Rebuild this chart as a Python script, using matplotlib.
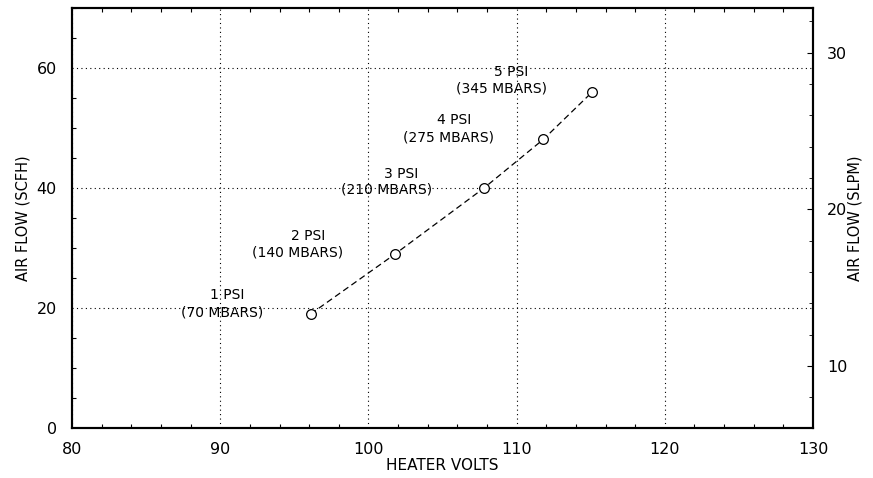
import numpy as np
import matplotlib.pyplot as plt
from matplotlib.ticker import MultipleLocator

plt.rcParams['font.family'] = ['DejaVu Sans']

# data
volts = [96.1, 101.8, 107.8, 111.8, 115.1]
scfh = [19.0, 29.0, 40.0, 48.1, 56.0]
psi = [1, 2, 3, 4, 5]
mbars = [70, 140, 210, 275, 345]

# where the two label lines sit (data coords)
top_xy = [(90.5, 22.2), (95.9, 32.0), (102.2, 42.3), (105.8, 51.3), (109.6, 59.4)]
bot_xy = [(90.1, 19.3), (95.2, 29.2), (101.2, 39.7), (105.4, 48.5), (109.0, 56.6)]

fig = plt.figure(figsize=(8.73, 4.78), dpi=100)
ax = fig.add_axes([0.0825, 0.1046, 0.8488, 0.8786])

ax.plot(volts, scfh, color='black', linestyle=(0, (5, 3)), linewidth=0.9,
        marker='o', markersize=7, markerfacecolor='white',
        markeredgecolor='black', markeredgewidth=0.9, zorder=3)

for p, m, (tx, ty), (bx, by) in zip(psi, mbars, top_xy, bot_xy):
    ax.text(tx, ty, '%d PSI' % p, ha='center', va='center', fontsize=10)
    ax.text(bx, by, '(%d MBARS)' % m, ha='center', va='center', fontsize=10)

ax.set_xlim(80, 130)
ax.set_ylim(0, 70)
ax.set_xticks([80, 90, 100, 110, 120, 130])
ax.set_yticks([0, 20, 40, 60])
ax.xaxis.set_minor_locator(MultipleLocator(2))
ax.yaxis.set_minor_locator(MultipleLocator(5))
ax.tick_params(which='both', direction='in', top=True, labelsize=11.5,
               colors='black', width=0.8)
ax.tick_params(which='major', length=0)
ax.tick_params(axis='x', which='major', pad=10)
ax.tick_params(axis='y', which='major', pad=11)
ax.tick_params(which='minor', length=3)
ax.grid(True, which='major', linestyle=(0, (1, 3)), color='black', linewidth=0.8)
for s in ax.spines.values():
    s.set_linewidth(1.5)

ax.set_xlabel('HEATER VOLTS', fontsize=11, labelpad=1)
ax.set_ylabel('AIR FLOW (SCFH)', fontsize=10.5, labelpad=4)

# right axis in SLPM
ax2 = ax.twinx()
ax2.set_ylim(6.04, 32.85)
ax2.set_yticks([10, 20, 30])
ax2.yaxis.set_minor_locator(MultipleLocator(2))
ax2.tick_params(which='both', direction='in', labelsize=11.5)
ax2.tick_params(which='major', length=4, pad=10)
ax2.tick_params(which='minor', length=3)
ax2.set_ylabel('AIR FLOW (SLPM)', fontsize=10.5, labelpad=0)
for s in ax2.spines.values():
    s.set_linewidth(1.5)

fig.savefig('out.png', dpi=100)
